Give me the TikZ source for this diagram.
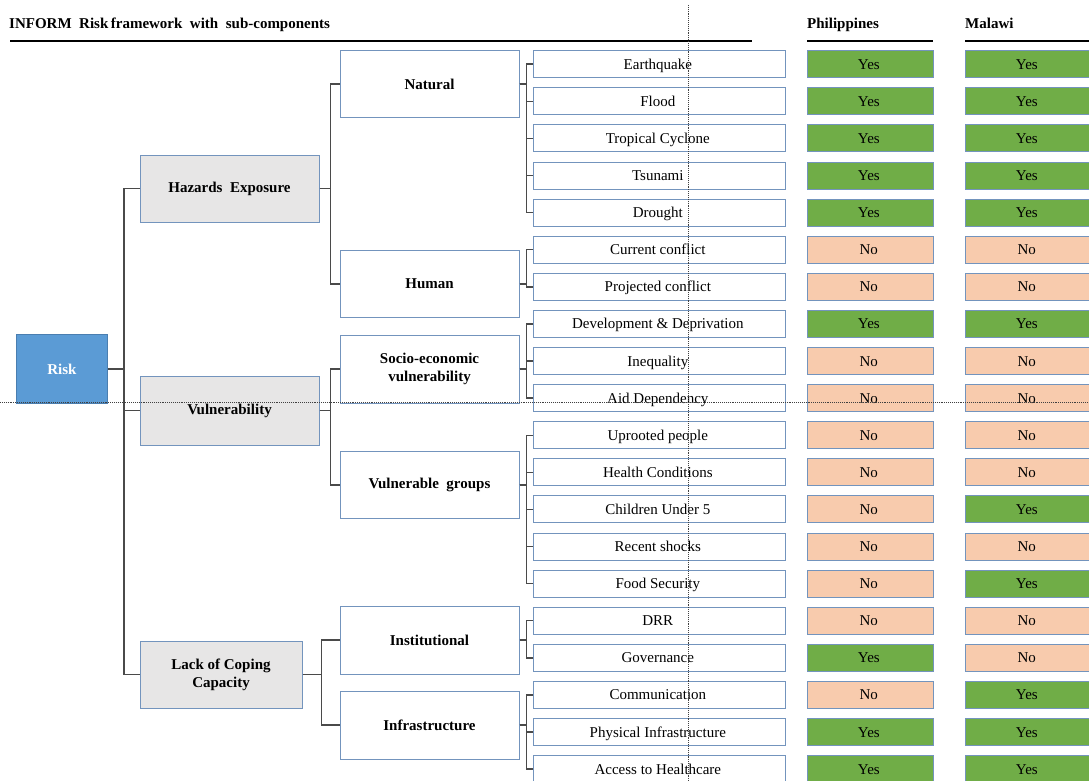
\documentclass[tikz,border=0pt]{standalone}
\usepackage{fontspec}
\setmainfont{Liberation Serif}
\usetikzlibrary{matrix,positioning}

\definecolor{edgeblue}{HTML}{7394BD}
\definecolor{yesgreen}{HTML}{70AD47}
\definecolor{nopeach}{HTML}{F8CBAD}
\definecolor{riskblue}{HTML}{5B9BD5}
\definecolor{riskedge}{HTML}{4A7EB0}
\definecolor{boxgrey}{HTML}{E7E6E6}
\definecolor{linegrey}{HTML}{4A4A4A}

\begin{document}
\begin{tikzpicture}[x=1pt,y=-1pt,font=\fontsize{15}{17}\selectfont]
    \tikzstyle{box} = [draw=edgeblue, line width=1pt, fill=white, align=center, inner sep=2pt]
    \tikzstyle{midbox} = [box, font=\fontsize{15}{18}\selectfont\bfseries, minimum width=179pt, minimum height=67pt]
    \tikzstyle{topbox} = [midbox, fill=boxgrey]
    \tikzstyle{yes} = [fill=yesgreen]
    \tikzstyle{no} = [fill=nopeach]
    \tikzstyle{conn} = [draw=linegrey, line width=1.4pt]
    \tikzstyle{head} = [anchor=base west, inner sep=0pt, font=\fontsize{15}{17}\selectfont\bfseries]
    \useasboundingbox (0,0) rectangle (1089,781);
    \clip (0,0) rectangle (1089,781);

    % headings
    \node[head] (title) at (9,29) {INFORM\ \ Risk\,framework\ \ with\ \ sub-components};
    \node[head] (ph) at (807,29) {Philippines};
    \node[head] (mw) at (965,29) {Malawi};
    \draw[line width=1.3pt] (10,41) -- (752,41);
    \draw[line width=1.3pt] (807,41) -- (933,41);
    \draw[line width=1.3pt] (965,41) -- (1089,41);

    % sub-components with the two countries
    \matrix (m) [matrix of nodes, anchor=north west, inner sep=0pt, row sep=9.1pt, column sep=21pt,
    nodes={box, minimum width=126pt, minimum height=27pt, text height=12pt, text depth=2pt},
    column 1/.style={nodes={minimum width=252pt}}] at (533,50) {
    Earthquake                  & |[yes]| Yes &[10pt] |[yes]| Yes \\
    Flood                       & |[yes]| Yes & |[yes]| Yes \\
    Tropical Cyclone            & |[yes]| Yes & |[yes]| Yes \\
    Tsunami                     & |[yes]| Yes & |[yes]| Yes \\
    Drought                     & |[yes]| Yes & |[yes]| Yes \\
    Current conflict            & |[no]| No   & |[no]| No   \\
    Projected conflict          & |[no]| No   & |[no]| No   \\
    Development \& Deprivation  & |[yes]| Yes & |[yes]| Yes \\
    Inequality                  & |[no]| No   & |[no]| No   \\
    Aid Dependency              & |[no]| No   & |[no]| No   \\
    Uprooted people             & |[no]| No   & |[no]| No   \\
    Health Conditions           & |[no]| No   & |[no]| No   \\
    Children Under 5            & |[no]| No   & |[yes]| Yes \\
    Recent shocks               & |[no]| No   & |[no]| No   \\
    Food Security               & |[no]| No   & |[yes]| Yes \\
    DRR                         & |[no]| No   & |[no]| No   \\
    Governance                  & |[yes]| Yes & |[no]| No   \\
    Communication               & |[no]| No   & |[yes]| Yes \\
    Physical Infrastructure     & |[yes]| Yes & |[yes]| Yes \\
    Access to Healthcare        & |[yes]| Yes & |[yes]| Yes \\
    };

    % tree
    \node[box, fill=riskblue, draw=riskedge, text=white, font=\fontsize{15}{17}\selectfont\bfseries,
          minimum width=91pt, minimum height=69pt] (risk) at (62,369) {Risk};
    \node[topbox] (haz) at (229.5,188.5) {Hazards\ \ Exposure};
    \node[topbox, minimum height=69pt] (vul) at (229.5,410.5) {Vulnerability};
    \node[topbox, minimum width=162pt] (lcc) at (221,674.5) {Lack of Coping\\Capacity};
    \node[midbox] (nat) at (429.5,84) {Natural};
    \node[midbox] (hum) at (429.5,284) {Human};
    \node[midbox, minimum height=68pt] (soc) at (429.5,369) {Socio-economic\\vulnerability};
    \node[midbox] (vgr) at (429.5,485) {Vulnerable\ \ groups};
    \node[midbox, minimum height=68pt] (ins) at (429.5,640) {Institutional};
    \node[midbox, minimum height=68pt] (inf) at (429.5,725) {Infrastructure};

    \draw[conn] (risk.east) -- ++(16,0) |- (haz.west);
    \draw[conn] (risk.east) -- ++(16,0) |- (vul.west);
    \draw[conn] (risk.east) -- ++(16,0) |- (lcc.west);
    \draw[conn] (haz.east) -- ++(11,0) |- (nat.west);
    \draw[conn] (haz.east) -- ++(11,0) |- (hum.west);
    \draw[conn] (vul.east) -- ++(11,0) |- (soc.west);
    \draw[conn] (vul.east) -- ++(11,0) |- (vgr.west);
    \draw[conn] (lcc.east) -- ++(19,0) |- (ins.west);
    \draw[conn] (lcc.east) -- ++(19,0) |- (inf.west);
    \foreach \r in {1,...,5}   \draw[conn] (nat.east) -- ++(7,0) |- (m-\r-1.west);
    \foreach \r in {6,7}       \draw[conn] (hum.east) -- ++(7,0) |- (m-\r-1.west);
    \foreach \r in {8,9,10}    \draw[conn] (soc.east) -- ++(7,0) |- (m-\r-1.west);
    \foreach \r in {11,...,15} \draw[conn] (vgr.east) -- ++(7,0) |- (m-\r-1.west);
    \foreach \r in {16,17}     \draw[conn] (ins.east) -- ++(7,0) |- (m-\r-1.west);
    \foreach \r in {18,19,20}  \draw[conn] (inf.east) -- ++(7,0) |- (m-\r-1.west);

    % guide lines
    \draw[densely dotted, line width=0.9pt, black!75] (688,5) -- (688,781);
    \draw[densely dotted, line width=0.9pt, black!75] (0,402) -- (1089,402);
\end{tikzpicture}
\end{document}
